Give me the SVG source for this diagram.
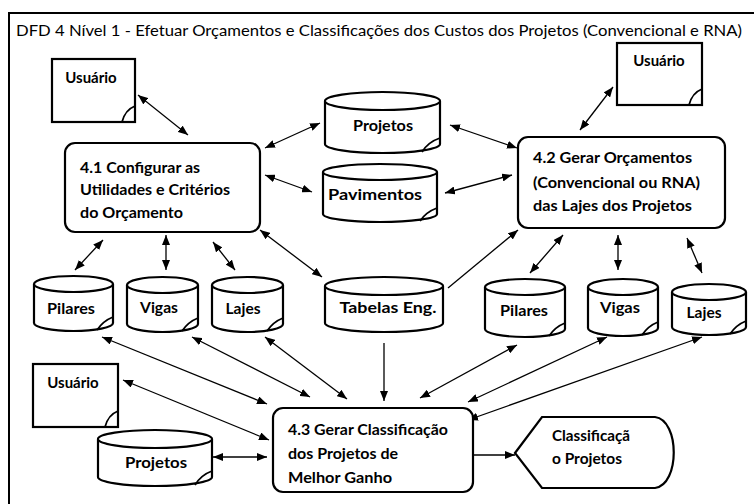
<svg xmlns="http://www.w3.org/2000/svg" width="754" height="504" viewBox="0 0 754 504">
<style>
.frame{fill:none;stroke:#000;stroke-width:2}
.shape{fill:#fff;stroke:#000;stroke-width:2.2}
.fold{fill:none;stroke:#000;stroke-width:1.8}
.t{font-family:Lato,"Liberation Sans",sans-serif;font-weight:bold;font-size:15px;fill:#000;dominant-baseline:central}
.title{font-family:Lato,"Liberation Sans",sans-serif;font-size:15px;fill:#000;dominant-baseline:central}
.c{text-anchor:middle}
.conn line{stroke:#000;stroke-width:1.3;fill:none}
</style>
<defs>
<marker id="ah" viewBox="0 0 10 8" refX="10" refY="4" markerWidth="10" markerHeight="8" markerUnits="userSpaceOnUse" orient="auto-start-reverse">
<path d="M0,0 L10,4 L0,8 Z" fill="#000"/>
</marker>
</defs>
<rect width="754" height="504" fill="#fff"/>
<path class="frame" d="M9,504 V13 H754"/>
<text class="title" x="16" y="30" textLength="726" lengthAdjust="spacingAndGlyphs">DFD 4 Nível 1 - Efetuar Orçamentos e Classificações dos Custos dos Projetos (Convencional e RNA)</text>

<g class="conn">
<line x1="138" y1="95" x2="188" y2="135" marker-start="url(#ah)" marker-end="url(#ah)"/>
<line x1="265" y1="148" x2="320" y2="123" marker-start="url(#ah)" marker-end="url(#ah)"/>
<line x1="265" y1="175" x2="312" y2="192" marker-start="url(#ah)" marker-end="url(#ah)"/>
<line x1="450" y1="125" x2="517" y2="148" marker-start="url(#ah)" marker-end="url(#ah)"/>
<line x1="445" y1="193" x2="512" y2="175" marker-start="url(#ah)" marker-end="url(#ah)"/>
<line x1="613" y1="87" x2="580" y2="130" marker-start="url(#ah)" marker-end="url(#ah)"/>
<line x1="103" y1="240" x2="75" y2="270" marker-start="url(#ah)" marker-end="url(#ah)"/>
<line x1="166" y1="235" x2="166" y2="270" marker-start="url(#ah)" marker-end="url(#ah)"/>
<line x1="213" y1="242" x2="235" y2="270" marker-start="url(#ah)" marker-end="url(#ah)"/>
<line x1="260" y1="230" x2="322" y2="277" marker-start="url(#ah)" marker-end="url(#ah)"/>
<line x1="448" y1="288" x2="518" y2="230" marker-end="url(#ah)"/>
<line x1="563" y1="235" x2="530" y2="273" marker-start="url(#ah)" marker-end="url(#ah)"/>
<line x1="618" y1="235" x2="618" y2="270" marker-start="url(#ah)" marker-end="url(#ah)"/>
<line x1="687" y1="238" x2="702" y2="273" marker-start="url(#ah)" marker-end="url(#ah)"/>
<line x1="384" y1="343" x2="384" y2="401" marker-end="url(#ah)"/>
<line x1="102" y1="337" x2="267" y2="404" marker-start="url(#ah)" marker-end="url(#ah)"/>
<line x1="192" y1="337" x2="310" y2="397" marker-start="url(#ah)" marker-end="url(#ah)"/>
<line x1="265" y1="337" x2="347" y2="399" marker-start="url(#ah)" marker-end="url(#ah)"/>
<line x1="123" y1="380" x2="269" y2="440" marker-start="url(#ah)" marker-end="url(#ah)"/>
<line x1="213" y1="457" x2="267" y2="457" marker-start="url(#ah)" marker-end="url(#ah)"/>
<line x1="517" y1="345" x2="420" y2="398" marker-start="url(#ah)" marker-end="url(#ah)"/>
<line x1="607" y1="337" x2="468" y2="402" marker-start="url(#ah)" marker-end="url(#ah)"/>
<line x1="702" y1="337" x2="468" y2="420" marker-start="url(#ah)" marker-end="url(#ah)"/>
<line x1="472" y1="455" x2="515" y2="455" marker-end="url(#ah)"/>
</g>

<g id="usuario1">
<rect class="shape" x="52" y="59" width="83" height="63"/>
<path class="fold" d="M122,122 Q125,110 135,106"/>
<text class="t c" x="91" y="77">Usuário</text>
</g>
<g id="usuario2">
<rect class="shape" x="617" y="43" width="85" height="62"/>
<path class="fold" d="M689,105 Q692,93 702,89"/>
<text class="t c" x="659" y="60">Usuário</text>
</g>
<g id="usuario3">
<rect class="shape" x="33" y="364" width="85" height="63"/>
<path class="fold" d="M105,427 Q108,415 118,411"/>
<text class="t c" x="73" y="382">Usuário</text>
</g>

<g id="p41">
<rect class="shape" x="65" y="143" width="195" height="89" rx="10"/>
<text class="t" x="80" y="167" textLength="120" lengthAdjust="spacingAndGlyphs">4.1 Configurar as</text>
<text class="t" x="80" y="189" textLength="150" lengthAdjust="spacingAndGlyphs">Utilidades e Critérios</text>
<text class="t" x="80" y="212" textLength="103" lengthAdjust="spacingAndGlyphs">do Orçamento</text>
</g>
<g id="p42">
<rect class="shape" x="518" y="137" width="207" height="91" rx="10"/>
<text class="t" x="533" y="157" textLength="159" lengthAdjust="spacingAndGlyphs">4.2 Gerar Orçamentos</text>
<text class="t" x="533" y="182" textLength="167" lengthAdjust="spacingAndGlyphs">(Convencional ou RNA)</text>
<text class="t" x="533" y="205" textLength="159" lengthAdjust="spacingAndGlyphs">das Lajes dos Projetos</text>
</g>
<g id="p43">
<rect class="shape" x="273" y="408" width="200" height="84" rx="10"/>
<text class="t" x="288" y="429" textLength="160" lengthAdjust="spacingAndGlyphs">4.3 Gerar Classificação</text>
<text class="t" x="288" y="453" textLength="110" lengthAdjust="spacingAndGlyphs">dos Projetos de</text>
<text class="t" x="288" y="477" textLength="104" lengthAdjust="spacingAndGlyphs">Melhor Ganho</text>
</g>

<g id="ds-projetos">
<path class="shape" d="M325,101 V144 A57.5,9 0 0 0 440,144 V101"/>
<ellipse class="shape" cx="382.5" cy="101" rx="57.5" ry="9"/>
<path class="fold" d="M440,138 Q428,142 422,152"/>
<text class="t c" x="383" y="125" textLength="60" lengthAdjust="spacingAndGlyphs">Projetos</text>
</g>
<g id="ds-pavimentos">
<path class="shape" d="M323,172 V214 A57,8 0 0 0 437,214 V172"/>
<ellipse class="shape" cx="380" cy="172" rx="57" ry="8"/>
<path class="fold" d="M437,208 Q426,212 420,221"/>
<text class="t c" x="375" y="194" textLength="94" lengthAdjust="spacingAndGlyphs">Pavimentos</text>
</g>
<g id="ds-pilares1">
<path class="shape" d="M34,284 V323 A39.5,8 0 0 0 113,323 V284"/>
<ellipse class="shape" cx="73.5" cy="284" rx="39.5" ry="8"/>
<path class="fold" d="M113,317 Q103,321 97,330"/>
<text class="t c" x="71" y="308" textLength="48" lengthAdjust="spacingAndGlyphs">Pilares</text>
</g>
<g id="ds-vigas1">
<path class="shape" d="M127,285 V324 A35.5,8 0 0 0 198,324 V285"/>
<ellipse class="shape" cx="162.5" cy="285" rx="35.5" ry="8"/>
<path class="fold" d="M198,318 Q188,322 182,331"/>
<text class="t c" x="159" y="307" textLength="38" lengthAdjust="spacingAndGlyphs">Vigas</text>
</g>
<g id="ds-lajes1">
<path class="shape" d="M212,285 V324 A35.5,8 0 0 0 283,324 V285"/>
<ellipse class="shape" cx="247.5" cy="285" rx="35.5" ry="8"/>
<path class="fold" d="M283,318 Q273,322 267,331"/>
<text class="t c" x="243" y="308" textLength="35" lengthAdjust="spacingAndGlyphs">Lajes</text>
</g>
<g id="ds-tabelas">
<path class="shape" d="M325,286 V323 A59,9 0 0 0 443,323 V286"/>
<ellipse class="shape" cx="384" cy="286" rx="59" ry="9"/>
<text class="t c" x="388" y="307" textLength="97" lengthAdjust="spacingAndGlyphs">Tabelas Eng.</text>
</g>
<g id="ds-pilares2">
<path class="shape" d="M485,287 V329 A40,8 0 0 0 565,329 V287"/>
<ellipse class="shape" cx="525" cy="287" rx="40" ry="8"/>
<path class="fold" d="M565,323 Q555,327 549,336"/>
<text class="t c" x="524" y="310" textLength="48" lengthAdjust="spacingAndGlyphs">Pilares</text>
</g>
<g id="ds-vigas2">
<path class="shape" d="M588,287 V328 A35,8 0 0 0 658,328 V287"/>
<ellipse class="shape" cx="623" cy="287" rx="35" ry="8"/>
<path class="fold" d="M658,322 Q648,326 642,335"/>
<text class="t c" x="620" y="307" textLength="40" lengthAdjust="spacingAndGlyphs">Vigas</text>
</g>
<g id="ds-lajes2">
<path class="shape" d="M672,292 V327 A37,8 0 0 0 746,327 V292"/>
<ellipse class="shape" cx="709" cy="292" rx="37" ry="8"/>
<path class="fold" d="M746,321 Q736,325 730,334"/>
<text class="t c" x="704" y="312" textLength="35" lengthAdjust="spacingAndGlyphs">Lajes</text>
</g>
<g id="ds-projetos2">
<path class="shape" d="M98,439 V477 A57,9 0 0 0 212,477 V439"/>
<ellipse class="shape" cx="155" cy="439" rx="57" ry="9"/>
<path class="fold" d="M212,471 Q201,475 195,485"/>
<text class="t c" x="156" y="462" textLength="62" lengthAdjust="spacingAndGlyphs">Projetos</text>
</g>

<g id="display-classificacao">
<path class="shape" d="M515,453 L542,417 H655 C680,420 680,485 655,488 H542 Z"/>
<text class="t" x="552" y="435" textLength="78" lengthAdjust="spacingAndGlyphs">Classificaçã</text>
<text class="t" x="552" y="458" textLength="70" lengthAdjust="spacingAndGlyphs">o Projetos</text>
</g>
</svg>
